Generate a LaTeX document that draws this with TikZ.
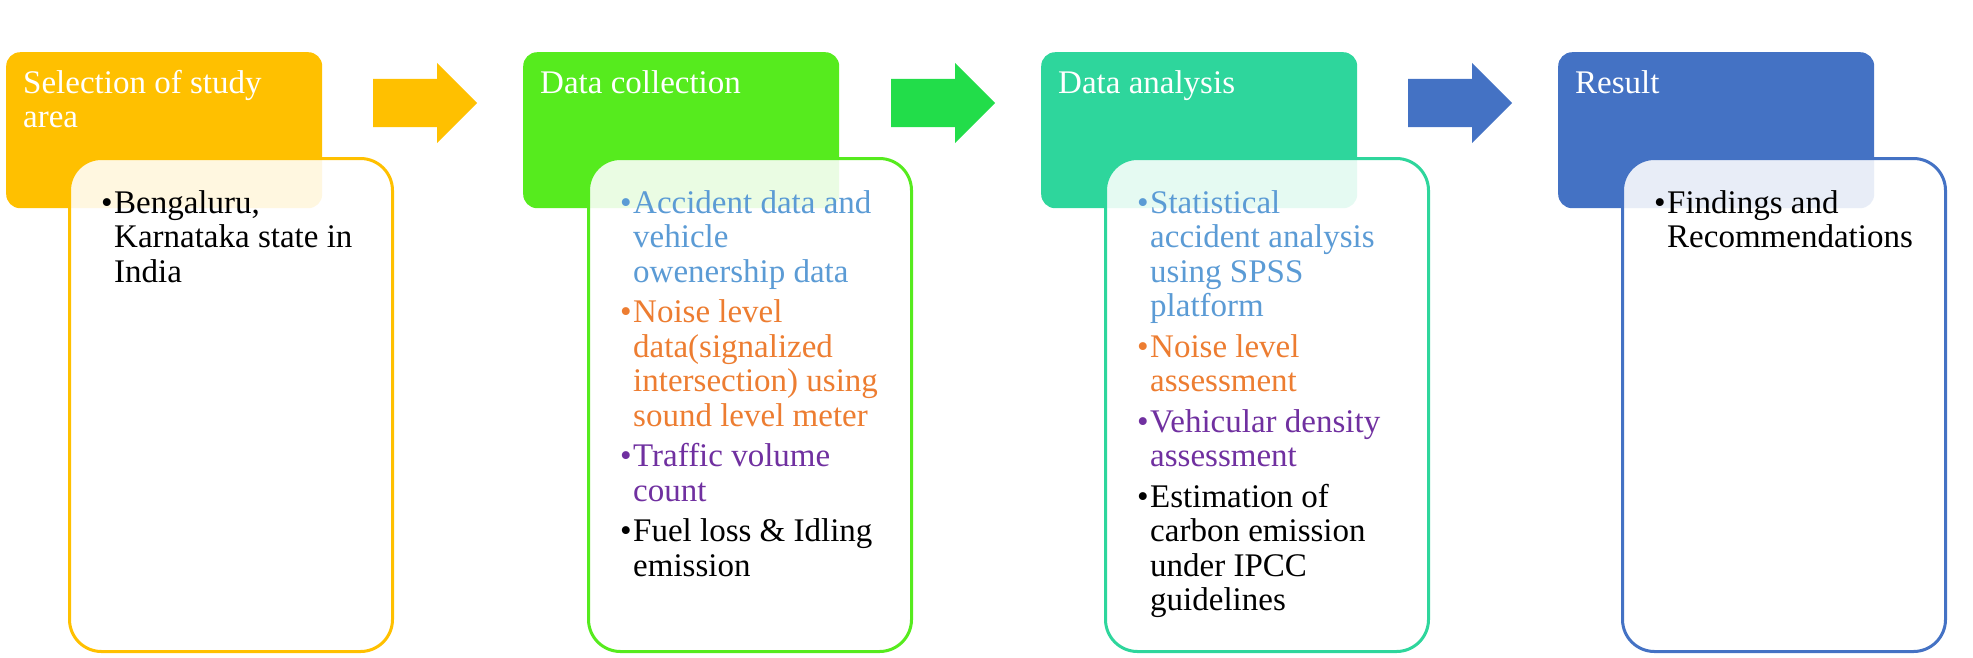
\documentclass[tikz,border=0pt]{standalone}
\usepackage{fontspec}
\setmainfont{Liberation Serif}
\usepackage{tikz}
\usetikzlibrary{shapes.arrows}

\definecolor{cyellow}{HTML}{FFC000}
\definecolor{cgreen}{HTML}{56EB1E}
\definecolor{carrowgreen}{HTML}{22DD4A}
\definecolor{cteal}{HTML}{2ED69C}
\definecolor{cblue}{HTML}{4472C4}
\definecolor{tblue}{HTML}{5B9BD5}
\definecolor{torange}{HTML}{ED7D31}
\definecolor{tpurple}{HTML}{7030A0}

% lines hanging from the first baseline
\newcommand{\rows}[1]{\begin{tabular}[t]{@{}l@{}}#1\end{tabular}}
% one bullet point with its lines
\newcommand{\bul}[2]{{\color{#1}\makebox[13pt][l]{\textbullet}\rows{#2}}}

\begin{document}
\begin{tikzpicture}[x=1pt, y=-1pt, font=\fontsize{33}{34.5}\selectfont]

    \tikzstyle{head}=[rectangle, rounded corners=14pt, minimum width=316pt, minimum height=156pt, anchor=north west, inner sep=0pt]
    \tikzstyle{body}=[rectangle, rounded corners=32pt, draw, line width=3pt, fill=white, fill opacity=0.88, minimum width=323pt, minimum height=493pt, anchor=north west, inner sep=0pt]
    \tikzstyle{title}=[anchor=base west, inner sep=0pt, text=white]
    \tikzstyle{items}=[anchor=north west, inner sep=0pt, align=left]
    \tikzstyle{blockarrow}=[single arrow, minimum height=104pt, inner xsep=0pt, inner ysep=24pt, single arrow head extend=16pt, single arrow tip angle=90, anchor=tail]

    \useasboundingbox (0,0) rectangle (1973,657);

    \node[head, fill=cyellow]          (h1) at (6,52)    {};
    \node[head, fill=cgreen]           (h2) at (523,52)  {};
    \node[head, fill=cteal]            (h3) at (1041,52) {};
    \node[head, fill=cblue]            (h4) at (1558,52) {};

    \node[body, draw=cyellow]          (b1) at (68,157)   {};
    \node[body, draw=cgreen]           (b2) at (587,157)  {};
    \node[body, draw=cteal]            (b3) at (1104,157) {};
    \node[body, draw=cblue]            (b4) at (1621,157) {};

    \node[title] (t1) at (23,93)   {\rows{Selection of study\\area}};
    \node[title] (t2) at (540,93)  {Data collection};
    \node[title] (t3) at (1058,93) {Data analysis};
    \node[title] (t4) at (1575,93) {Result};

    \node[items] (l1) at (101,189) {\bul{black}{Bengaluru,\\Karnataka state in\\India}};
    \node[items] (l2) at (620,189) {\bul{tblue}{Accident data and\\vehicle\\owenership data}\\[5pt]
        \bul{torange}{Noise level\\data(signalized\\intersection) using\\sound level meter}\\[5pt]
        \bul{tpurple}{Traffic volume\\count}\\[5pt]
        \bul{black}{Fuel loss \& Idling\\emission}};
    \node[items] (l3) at (1137,189) {\bul{tblue}{Statistical\\accident analysis\\using SPSS\\platform}\\[5pt]
        \bul{torange}{Noise level\\assessment}\\[5pt]
        \bul{tpurple}{Vehicular density\\assessment}\\[5pt]
        \bul{black}{Estimation of\\carbon emission\\under IPCC\\guidelines}};
    \node[items] (l4) at (1654,189) {\bul{black}{Findings and\\Recommendations}};

    \node[blockarrow, fill=cyellow]      (a1) at (373,103)  {};
    \node[blockarrow, fill=carrowgreen]  (a2) at (891,103)  {};
    \node[blockarrow, fill=cblue]        (a3) at (1408,103) {};

\end{tikzpicture}
\end{document}
